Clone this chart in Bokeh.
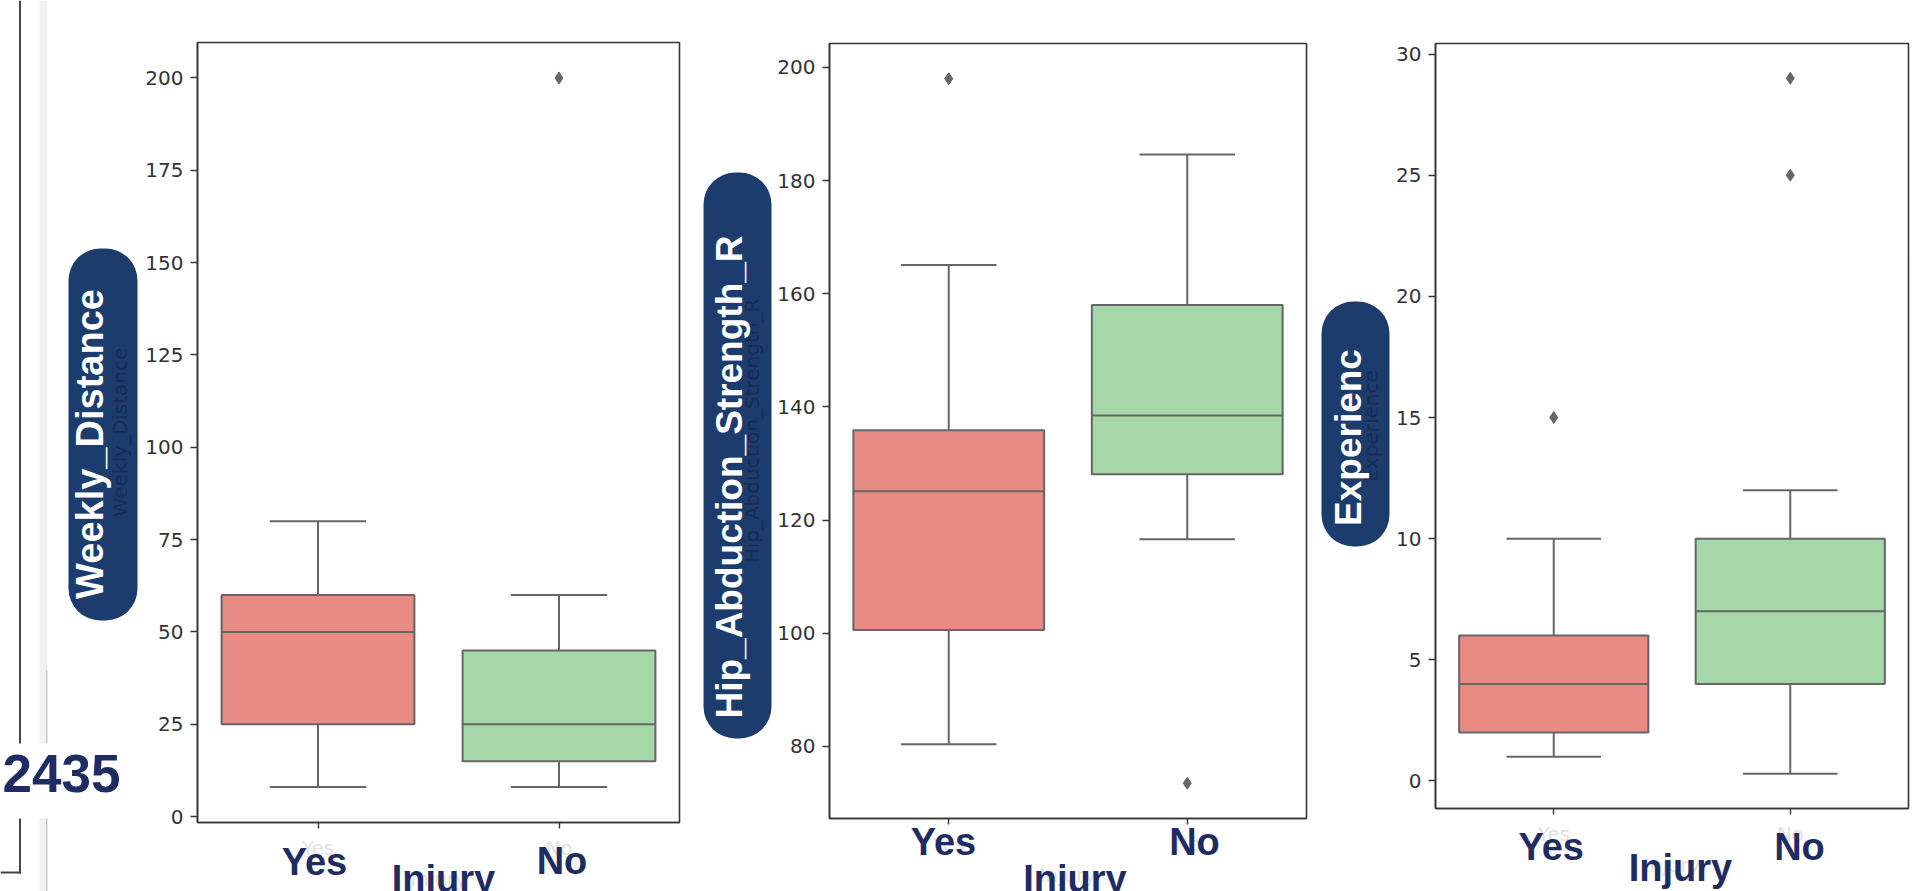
import math
from bokeh.plotting import figure
from bokeh.models import ColumnDataSource, Range1d, FixedTicker, Label, BoxAnnotation
from bokeh.transform import dodge
from bokeh.layouts import row
from bokeh.embed import file_html
from bokeh.resources import INLINE

# ---------------- data ----------------
categories = ["Yes", "No"]
box_colors = ["#E88B82", "#A6D7A8"]

weekly_lower = [8, 8]
weekly_q1 = [25, 15]
weekly_median = [50, 25]
weekly_q3 = [60, 45]
weekly_upper = [80, 60]
weekly_out_cat = ["No"]
weekly_out_val = [200]
weekly_ticks = [0, 25, 50, 75, 100, 125, 150, 175, 200]

hip_lower = [80.4, 116.6]
hip_q1 = [100.6, 128.1]
hip_median = [125.1, 138.5]
hip_q3 = [135.9, 158.0]
hip_upper = [165.1, 184.6]
hip_out_cat = ["Yes", "No"]
hip_out_val = [198.0, 73.5]
hip_ticks = [80, 100, 120, 140, 160, 180, 200]

exp_lower = [1.0, 0.3]
exp_q1 = [2, 4]
exp_median = [4, 7]
exp_q3 = [6, 10]
exp_upper = [10, 12]
exp_out_cat = ["Yes", "No", "No"]
exp_out_val = [15, 25, 29]
exp_ticks = [0, 5, 10, 15, 20, 25, 30]

axis_labels = ["Weekly_Distance", "Hip_Abduction_Strength_R", "Experience"]
pill_labels = ["Weekly_Distance", "Hip_Abduction_Strength_R", "Experienc"]
x_label = "Injury"
corner_text = "2435"

# ---------------- styles / layout (page pixels) ----------------
NAVY = "#1f2c63"
PILL = "#1c3c6e"
LINE = "#666666"
FRAME = "#363636"
FAINT = "#e2e2e2"
PAGE_H = 891
BASE_SHIFT = 0.37   # correction of the text baseline, in font sizes

layouts = [
    dict(fig_x0=0, fig_x1=690, frame=(197, 42, 482, 780),
         pill=(68, 248, 137, 620), pill_text=(103.5, 443.5, 38),
         yes=(314, 876), no=(561.5, 875), injury=(443, 893)),
    dict(fig_x0=690, fig_x1=1312, frame=(829, 43, 477, 775),
         pill=(703, 172, 771, 738), pill_text=(743, 476.5, 37),
         yes=(943, 856), no=(1194, 856), injury=(1074.5, 893)),
    dict(fig_x0=1312, fig_x1=1929, frame=(1435, 43, 473, 765),
         pill=(1321, 301, 1389, 546), pill_text=(1362, 437, 37),
         yes=(1550.7, 861), no=(1799, 861), injury=(1680, 882)),
]

panel_data = [
    (weekly_lower, weekly_q1, weekly_median, weekly_q3, weekly_upper, weekly_out_cat, weekly_out_val, weekly_ticks),
    (hip_lower, hip_q1, hip_median, hip_q3, hip_upper, hip_out_cat, hip_out_val, hip_ticks),
    (exp_lower, exp_q1, exp_median, exp_q3, exp_upper, exp_out_cat, exp_out_val, exp_ticks),
]

cat_pos = list(range(len(categories)))          # 0, 1 on the category scale
XLO, XHI = -0.5, len(categories) - 0.5           # seaborn-style category extent


def make_panel(i):
    lower, q1, med, q3, upper, out_cat, out_val, ticks = panel_data[i]
    L = layouts[i]
    fx0, fx1 = L["fig_x0"], L["fig_x1"]
    fl, ft, fw, fh = L["frame"]
    fr, fb = fl + fw, ft + fh
    fig_w = fx1 - fx0

    allv = list(lower) + list(upper) + list(out_val)
    lo, hi = min(allv), max(allv)
    pad = 0.05 * (hi - lo)
    ylo, yhi = lo - pad, hi + pad

    # the plotting frame covers the whole canvas; the axes box sits inside it
    xs = (XHI - XLO) / fw
    ys = (yhi - ylo) / fh
    x_range = Range1d(XLO - (fl - fx0) * xs, XHI + (fx1 - fr) * xs)
    y_range = Range1d(ylo - (PAGE_H - fb) * ys, yhi + ft * ys)

    p = figure(x_range=x_range, y_range=y_range,
               frame_width=fig_w, frame_height=PAGE_H,
               min_border=0, min_border_left=0, min_border_right=0,
               min_border_top=0, min_border_bottom=0,
               output_backend="svg", toolbar_location=None, tools="")
    p.background_fill_color = "white"
    p.border_fill_color = "white"
    p.outline_line_color = None
    p.xgrid.visible = False
    p.ygrid.visible = False

    # page pixel -> screen units of this canvas (origin bottom-left)
    def sx(x):
        return x - fx0

    def sy(y):
        return PAGE_H - y

    def sbox(l, t, r, b, color, level="underlay", radius=0):
        p.add_layout(BoxAnnotation(left=sx(l), right=sx(r), top=sy(t), bottom=sy(b),
                                   left_units="screen", right_units="screen",
                                   top_units="screen", bottom_units="screen",
                                   fill_color=color, fill_alpha=1.0, line_alpha=0,
                                   border_radius=radius, level=level))

    # pill behind the y label
    x0, y0, x1, y1 = L["pill"]
    sbox(x0, y0, x1, y1, PILL, radius=32)

    if i == 0:
        sbox(39, 0, 47, 900, "#f1f1f1")
        sbox(45.5, 670, 46.8, 900, "#c4c4c4")
        sbox(18.5, 0, 20.5, 873, "#444444")
        sbox(0, 871, 20.5, 873, "#444444")
        sbox(0, 743, 48, 818, "#ffffff", level="annotation")

    src = ColumnDataSource(dict(x=cat_pos, cat=categories, lower=lower, q1=q1, med=med,
                                q3=q3, upper=upper, color=box_colors))
    lw = 2
    p.segment(x0="x", y0="q3", x1="x", y1="upper", source=src, line_color=LINE, line_width=lw)
    p.segment(x0="x", y0="lower", x1="x", y1="q1", source=src, line_color=LINE, line_width=lw)
    for col in ("upper", "lower"):
        p.segment(x0=dodge("x", -0.2), y0=col, x1=dodge("x", 0.2), y1=col,
                  source=src, line_color=LINE, line_width=lw)
    p.vbar(x="x", width=0.8, top="q3", bottom="q1", source=src,
           fill_color="color", line_color=LINE, line_width=lw)
    p.segment(x0=dodge("x", -0.4), y0="med", x1=dodge("x", 0.4), y1="med",
              source=src, line_color=LINE, line_width=lw)
    out_x = [categories.index(c) for c in out_cat]
    p.scatter(x=out_x, y=out_val, marker="diamond", size=12,
              fill_color=LINE, line_color=LINE)

    # axes box outline
    p.add_layout(BoxAnnotation(left=XLO, right=XHI, bottom=ylo, top=yhi,
                               fill_alpha=0, line_color=FRAME, line_alpha=1.0,
                               line_width=1.6))

    # y axis, pinned to the left edge of the axes box
    ya = p.yaxis[0]
    ya.fixed_location = XLO
    ya.bounds = (ylo, yhi)
    ya.ticker = FixedTicker(ticks=ticks, minor_ticks=[])
    ya.major_label_text_font = "DejaVu Sans"
    ya.major_label_text_font_size = "20px"
    ya.major_label_text_color = "#333333"
    ya.major_tick_out = 7
    ya.major_tick_in = 0
    ya.minor_tick_out = 0
    ya.minor_tick_in = 0
    ya.major_tick_line_color = FRAME
    ya.major_tick_line_width = 1.4
    ya.axis_line_color = FRAME
    ya.axis_line_width = 1.6
    ya.major_label_standoff = 7
    ya.axis_label = axis_labels[i]
    ya.axis_label_text_font = "DejaVu Sans"
    ya.axis_label_text_font_style = "normal"
    ya.axis_label_text_font_size = "20px"
    ya.axis_label_text_color = "#192c55"
    ya.axis_label_standoff = 10

    # x axis (faint original labels), pinned to the bottom of the axes box
    xa = p.xaxis[0]
    xa.fixed_location = ylo
    xa.bounds = (XLO, XHI)
    xa.ticker = FixedTicker(ticks=cat_pos, minor_ticks=[])
    xa.major_label_overrides = {pos: c for pos, c in zip(cat_pos, categories)}
    xa.major_label_text_font = "DejaVu Sans"
    xa.major_label_text_font_size = "20px"
    xa.major_label_text_color = FAINT
    xa.major_tick_out = 6
    xa.major_tick_in = 0
    xa.minor_tick_out = 0
    xa.minor_tick_in = 0
    xa.major_tick_line_color = FRAME
    xa.major_tick_line_width = 1.4
    xa.axis_line_color = FRAME
    xa.axis_line_width = 1.6
    xa.major_label_standoff = 7
    xa.axis_label = x_label
    xa.axis_label_text_font = "DejaVu Sans"
    xa.axis_label_text_font_style = "normal"
    xa.axis_label_text_font_size = "20px"
    xa.axis_label_text_color = FAINT
    xa.axis_label_standoff = 4

    # white pill text (rotated; the baseline runs vertically)
    tx, ty, tsize = L["pill_text"]
    p.add_layout(Label(x=sx(tx - BASE_SHIFT * tsize), y=sy(ty),
                       x_units="screen", y_units="screen",
                       text=pill_labels[i], angle=math.pi / 2,
                       text_align="center", text_baseline="alphabetic",
                       text_font="Liberation Sans", text_font_style="bold",
                       text_font_size=f"{tsize}px", text_color="white"))

    # big navy category and axis labels
    big = 38
    for key, txt in (("yes", categories[0]), ("no", categories[1]), ("injury", x_label)):
        cx, by = L[key]
        p.add_layout(Label(x=sx(cx), y=sy(by - BASE_SHIFT * big),
                           x_units="screen", y_units="screen",
                           text=txt, text_align="center", text_baseline="alphabetic",
                           text_font="Liberation Sans", text_font_style="bold",
                           text_font_size=f"{big}px", text_color=NAVY))

    if i == 0:
        cs = 53
        p.add_layout(Label(x=sx(2), y=sy(793 - BASE_SHIFT * cs),
                           x_units="screen", y_units="screen",
                           text=corner_text, text_align="left", text_baseline="alphabetic",
                           text_font="Liberation Sans", text_font_style="bold",
                           text_font_size=f"{cs}px", text_color=NAVY))
    return p


figs = [make_panel(i) for i in range(3)]
layout = row(*figs)
open("out.html", "w").write(file_html(layout, INLINE))
